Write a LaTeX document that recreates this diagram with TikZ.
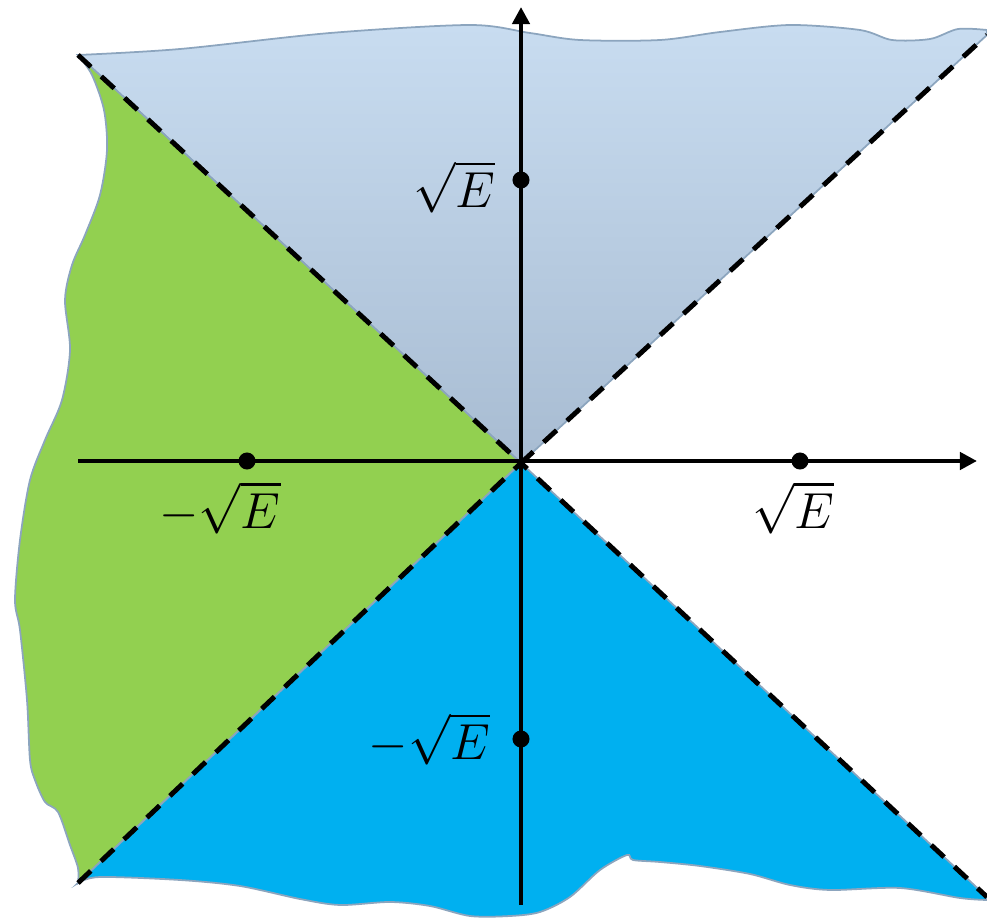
\documentclass[tikz,border=0pt]{standalone}
\usepackage{amsmath}
\usepackage{amssymb}
\usepackage{xcolor}
\usetikzlibrary{arrows.meta, positioning}

\definecolor{skytop}{RGB}{200,220,240}
\definecolor{skybot}{RGB}{168,188,210}
\definecolor{leafgreen}{RGB}{146,208,80}
\definecolor{seablue}{RGB}{0,176,240}
\definecolor{rimgray}{RGB}{140,165,190}

\begin{document}
\begin{tikzpicture}[x=0.01cm, y=-0.01cm,
  axis/.style={line width=1.2pt, -{Triangle[length=1.7mm, width=1.7mm]}},
  cone/.style={black, line width=1.4pt, dash pattern=on 5pt off 4pt},
  rim/.style={draw=rimgray, line width=0.5pt},
  dot/.style={circle, fill=black, inner sep=0pt, minimum size=1.7mm},
  lbl/.style={font=\fontsize{13.5}{16}\selectfont, inner sep=1pt}
]
\useasboundingbox (0,0) rectangle (987,918);

\coordinate (o)  at (521,463);
\coordinate (ul) at (78,55);
\coordinate (ur) at (987,35);
\coordinate (ll) at (78,883);
\coordinate (lr) at (987,897);

\fill[top color=skytop, bottom color=skybot, rim]
  plot[smooth] coordinates {(78,55) (180,49) (330,33) (470,25) (530,33) (580,40) (660,40)
    (720,32) (790,25) (860,30) (892,40) (930,39) (958,29) (987,30)} -- (ur) -- (o) -- cycle;
\fill[leafgreen, rim]
  (o) -- (ll) -- plot[smooth] coordinates {(78,883) (78,868) (70,845) (58,812) (45,802) (35,780)
    (30,760) (27,700) (20,630) (15,600) (20,540) (30,480) (45,440) (62,400) (70,350) (65,300)
    (72,265) (85,235) (100,195) (107,150) (104,110) (92,75) (78,55)} -- cycle;
\fill[seablue, rim]
  (o) -- (lr) -- plot[smooth] coordinates {(987,900) (960,898) (900,888) (830,890) (790,885)
    (750,874) (700,866) (660,862) (633,860) (627,855) (600,870) (570,897) (540,912) (510,916)
    (470,916) (430,906) (390,902) (340,905) (300,899) (240,886) (180,880) (100,877) (78,883)} -- cycle;

\draw[cone] (ul) -- (o) -- (ur);
\draw[cone] (ll) -- (o) -- (lr);

\coordinate (xs) at (78,461);
\coordinate (xe) at (977,461);
\coordinate (ys) at (521,905);
\coordinate (ye) at (521,7);
\draw[axis] (xs) -- (xe);
\draw[axis] (ys) -- (ye);

\node[dot] (xneg) at (247,461) {};
\node[dot] (xpos) at (800,461) {};
\node[dot] (ypos) at (521,180) {};
\node[dot] (yneg) at (521,739) {};

\node[lbl, below=2pt of xneg, xshift=-0.27cm] {$-\sqrt{E}$};
\node[lbl, below=2pt of xpos, xshift=-0.07cm] {$\sqrt{E}$};
\node[lbl, left=3.5pt of ypos, yshift=-0.07cm] {$\sqrt{E}$};
\node[lbl, left=5pt of yneg] {$-\sqrt{E}$};
\end{tikzpicture}
\end{document}
